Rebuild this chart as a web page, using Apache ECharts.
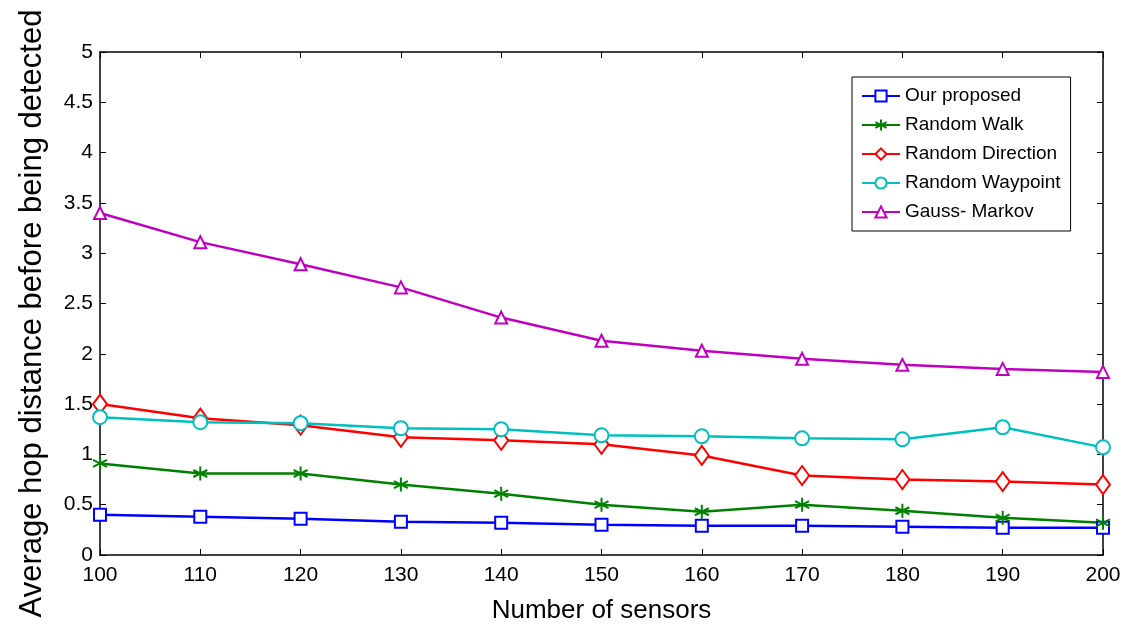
<!DOCTYPE html>
<html>
<head>
<meta charset="utf-8">
<script src="https://cdn.jsdelivr.net/npm/echarts@6/dist/echarts.min.js"></script>
<style>html,body{margin:0;padding:0;background:#fff}#c{width:1124px;height:629px}</style>
</head>
<body>
<div id="c"></div>
<script>
const sensors = [100, 110, 120, 130, 140, 150, 160, 170, 180, 190, 200];
const ourProposed    = [0.40, 0.38, 0.36, 0.33, 0.32, 0.30, 0.29, 0.29, 0.28, 0.27, 0.27];
const randomWalk     = [0.91, 0.81, 0.81, 0.70, 0.61, 0.50, 0.43, 0.50, 0.44, 0.37, 0.32];
const randomDirection= [1.50, 1.36, 1.29, 1.17, 1.14, 1.10, 0.99, 0.79, 0.75, 0.73, 0.70];
const randomWaypoint = [1.37, 1.32, 1.31, 1.26, 1.25, 1.19, 1.18, 1.16, 1.15, 1.27, 1.07];
const gaussMarkov    = [3.40, 3.11, 2.89, 2.66, 2.36, 2.13, 2.03, 1.95, 1.89, 1.85, 1.82];
const seriesNames = ['Our proposed', 'Random Walk', 'Random Direction', 'Random Waypoint', 'Gauss- Markov'];
const xTitle = 'Number of sensors';
const yTitle = 'Average hop distance before being detected';

const FONT = '"Liberation Sans", Arial, sans-serif';
const asterisk = 'path://M0,-10L0,10M-8.7,-5L8.7,5M-8.7,5L8.7,-5';

function pairs(vals){ return sensors.map((x,i)=>[x, vals[i]]); }

const styles = [
  {color:'#0000FF', symbol:'emptyRect', size:12},
  {color:'#008000', symbol:asterisk, size:14},
  {color:'#FF0000', symbol:'emptyDiamond', size:[14,19]},
  {color:'#00BFBF', symbol:'emptyCircle', size:14},
  {color:'#BF00BF', symbol:'emptyTriangle', size:12}
];
const allData = [ourProposed, randomWalk, randomDirection, randomWaypoint, gaussMarkov];

const chart = echarts.init(document.getElementById('c'), null, {renderer:'canvas'});
const axisLine = {show:true, onZero:false, lineStyle:{color:'#000', width:1.5}};
const tick = {show:true, inside:true, length:6, lineStyle:{color:'#000', width:1}};
chart.setOption({
  animation:false,
  backgroundColor:'#fff',
  textStyle:{fontFamily:FONT},
  grid:{left:100, right:21, top:52, bottom:66, containLabel:false},
  legend:{
    orient:'vertical', left:852, top:77,
    data: seriesNames,
    backgroundColor:'#fff', borderColor:'#000', borderWidth:1,
    padding:[9,10,9,9], itemGap:9, itemWidth:38, itemHeight:14,
    textStyle:{fontFamily:FONT, fontSize:19, lineHeight:20, color:'#000'}
  },
  xAxis:[{
    type:'value', min:100, max:200, interval:10,
    axisLine:axisLine, axisTick:tick, splitLine:{show:false},
    axisLabel:{fontSize:21, color:'#000', margin:10, fontFamily:FONT},
    name:xTitle, nameLocation:'middle', nameGap:43,
    nameTextStyle:{fontSize:26, color:'#000', fontFamily:FONT}
  },{
    type:'value', position:'top', min:100, max:200, interval:10,
    axisLine:axisLine, axisTick:tick, axisLabel:{show:false}, splitLine:{show:false}
  }],
  yAxis:[{
    type:'value', min:0, max:5, interval:0.5,
    axisLine:axisLine, axisTick:tick, splitLine:{show:false},
    axisLabel:{fontSize:21, color:'#000', margin:7, fontFamily:FONT},
    name:yTitle, nameLocation:'middle', nameGap:52, nameRotate:90,
    nameTextStyle:{fontSize:31, color:'#000', fontFamily:FONT, padding:[0,20,0,0]}
  },{
    type:'value', position:'right', min:0, max:5, interval:0.5,
    axisLine:axisLine, axisTick:tick, axisLabel:{show:false}, splitLine:{show:false}
  }],
  series: seriesNames.map((n,i)=>({
    name:n, type:'line', data:pairs(allData[i]),
    xAxisIndex:0, yAxisIndex:0,
    symbol:styles[i].symbol, symbolSize:styles[i].size, showAllSymbol:true,
    lineStyle:{color:styles[i].color, width:2.5},
    itemStyle:{color:styles[i].color, borderColor:styles[i].color, borderWidth:2},
    emphasis:{disabled:true}
  }))
});
</script>
</body>
</html>
